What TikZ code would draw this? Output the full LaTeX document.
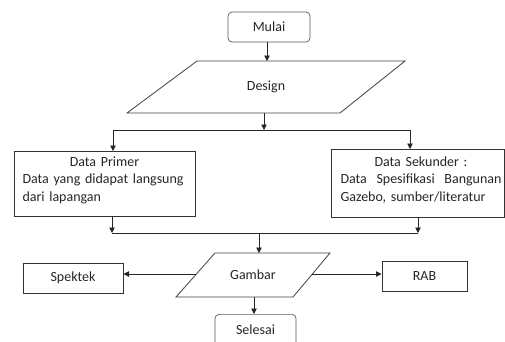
\documentclass[tikz,border=0pt]{standalone}
\usepackage{fontspec}
\setmainfont{Carlito}
\usetikzlibrary{arrows.meta}
\begin{document}
\begin{tikzpicture}[x=1pt,y=-1pt,
  every node/.style={font=\fontsize{14}{17.5}\selectfont, text=black!85},
  boxline/.style={draw=black!80, line width=1pt},
  roundline/.style={draw=black!65, line width=0.7pt, rounded corners=4pt},
  paraline/.style={draw=black!75, line width=0.8pt},
  conn/.style={draw=black!85, line width=0.9pt},
  arr/.style={conn, -{Triangle[length=5.5pt,width=5.5pt]}},
  txt/.style={inner sep=0pt}]
\useasboundingbox (0,0) rectangle (505,341);
% Mulai
\node[roundline, minimum width=82pt, minimum height=30pt, inner sep=0pt] (mulai) at (269,27) {Mulai};
% Design parallelogram
\draw[paraline] (197,61) -- (405,61) -- (340,113) -- (127,113) -- cycle;
\node[txt] (design) at (266,87) {Design};
\coordinate (designtop) at (267,61);
\coordinate (designbot) at (264,113);
\coordinate (split) at (264,130);
\coordinate (splitL) at (113,130);
\coordinate (splitR) at (410,130);
% Data boxes
\draw[boxline] (14,151) rectangle (195,216);
\node[txt, text width=164pt, align=left] (primer) at (104.5,180) {\makebox[\linewidth]{Data Primer}\\Data yang didapat langsung\\dari lapangan};
\draw[boxline] (331,149) rectangle (504,217);
\node[txt, text width=161pt, align=left] (sekunder) at (421,180) {\makebox[\linewidth]{Data Sekunder :}\\\makebox[\linewidth][s]{Data\hfill Spesifikasi\hfill Bangunan}\\Gazebo, sumber/literatur};
\coordinate (primertop) at (113,151);
\coordinate (sekundertop) at (410,149);
\coordinate (primerbot) at (112,216);
\coordinate (sekunderbot) at (418,217);
\coordinate (joinL) at (112,233);
\coordinate (joinR) at (418,233);
\coordinate (join) at (259,233);
% Gambar
\draw[paraline] (215,253) -- (330,253) -- (293,297) -- (176,297) -- cycle;
\node[txt] (gambar) at (253,275) {Gambar};
\coordinate (gambartop) at (259,253);
\coordinate (gambarL) at (196,274);
\coordinate (gambarR) at (312,274);
\coordinate (gambarbot) at (254,297);
% side boxes
\node[boxline, minimum width=100pt, minimum height=30pt, inner sep=0pt] (spektek) at (73,278) {Spektek};
\node[boxline, minimum width=85pt, minimum height=30pt, inner sep=0pt] (rab) at (424.5,276) {RAB};
% Selesai
\node[roundline, minimum width=81pt, minimum height=32pt, inner sep=0pt, anchor=north] (selesai) at (255.5,314) {};
\node[txt] (selesaitxt) at (255.5,330) {Selesai};
% connectors
\draw[arr] (mulai.south) ++(-2,0) -- (designtop);
\draw[arr] (designbot) -- (split);
\draw[conn] (splitL) -- (splitR);
\draw[arr] (splitL) -- (primertop);
\draw[arr] (splitR) -- (sekundertop);
\draw[arr] (primerbot) -- (joinL);
\draw[arr] (sekunderbot) -- (joinR);
\draw[conn] (joinL) -- (joinR);
\draw[arr] (join) -- (gambartop);
\draw[arr] (gambarL) -- (spektek.east |- gambarL);
\draw[arr] (gambarR) -- (rab.west |- gambarR);
\draw[arr] (gambarbot) -- (selesai.north -| gambarbot);
\end{tikzpicture}
\end{document}
